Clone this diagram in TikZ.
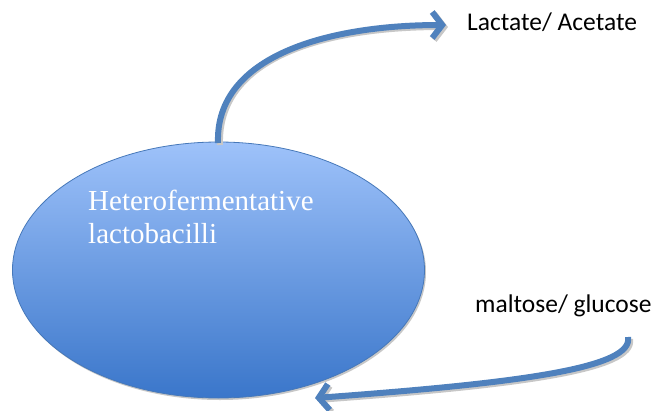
\documentclass[tikz,border=0pt]{standalone}
\usepackage{fontspec}
\setmainfont{Liberation Serif}
\newfontfamily\labelfont{Carlito}
\usetikzlibrary{arrows.meta,shapes.geometric}
\definecolor{arrowblue}{RGB}{79,129,189}
\definecolor{elltop}{RGB}{158,194,250}
\definecolor{ellbot}{RGB}{58,118,202}
\definecolor{ellline}{RGB}{70,120,185}
\tikzset{
  flow/.style={line width=6pt, arrowblue, -{Straight Barb[length=10pt,width=26pt,line width=6pt]}},
  shadowline/.style={line width=6pt, black!22, -{Straight Barb[length=10pt,width=26pt,line width=6pt]}},
  lbl/.style={font=\labelfont\fontsize{25.5}{30}\selectfont, anchor=base west, inner sep=0pt}
}
\begin{document}
\begin{tikzpicture}[x=1pt,y=-1pt]
\useasboundingbox (0,0) rectangle (659,410);
% ellipse shadow
\fill[black!22] (220,272) ellipse [x radius=206, y radius=128];
\node (cell) [ellipse, minimum width=412pt, minimum height=256pt, inner sep=0pt,
  top color=elltop, bottom color=ellbot, draw=ellline, line width=0.8pt] at (218.5,270) {};
\node (name1) [anchor=base west, inner sep=0pt, text=white,
  font=\fontsize{29}{33}\selectfont] at (88,210) {Heterofermentative};
\node (name2) [anchor=base west, inner sep=0pt, text=white,
  font=\fontsize{29}{33}\selectfont] at (88,243) {lactobacilli};
\coordinate (start) at (218,143);
\node (prod) [lbl] at (467,30) {Lactate/ Acetate};
\node (subs) [lbl] at (475,312) {maltose/ glucose};
\coordinate (tip1) at (446,25);
\coordinate (s2) at (628,337);
\coordinate (tip2) at (315,398);
% shadows
\draw[shadowline] ([shift={(2,2)}]start) .. controls (217,55) and (330,27) .. ([shift={(2,2)}]tip1);
\draw[shadowline] ([shift={(2,2)}]s2) .. controls (636,370) and (520,385) .. ([shift={(2,2)}]tip2);
% arrows
\draw[flow] (start) .. controls (215,55) and (330,25) .. (tip1);
\draw[flow] (s2) .. controls (634,368) and (520,383) .. (tip2);
\end{tikzpicture}
\end{document}
